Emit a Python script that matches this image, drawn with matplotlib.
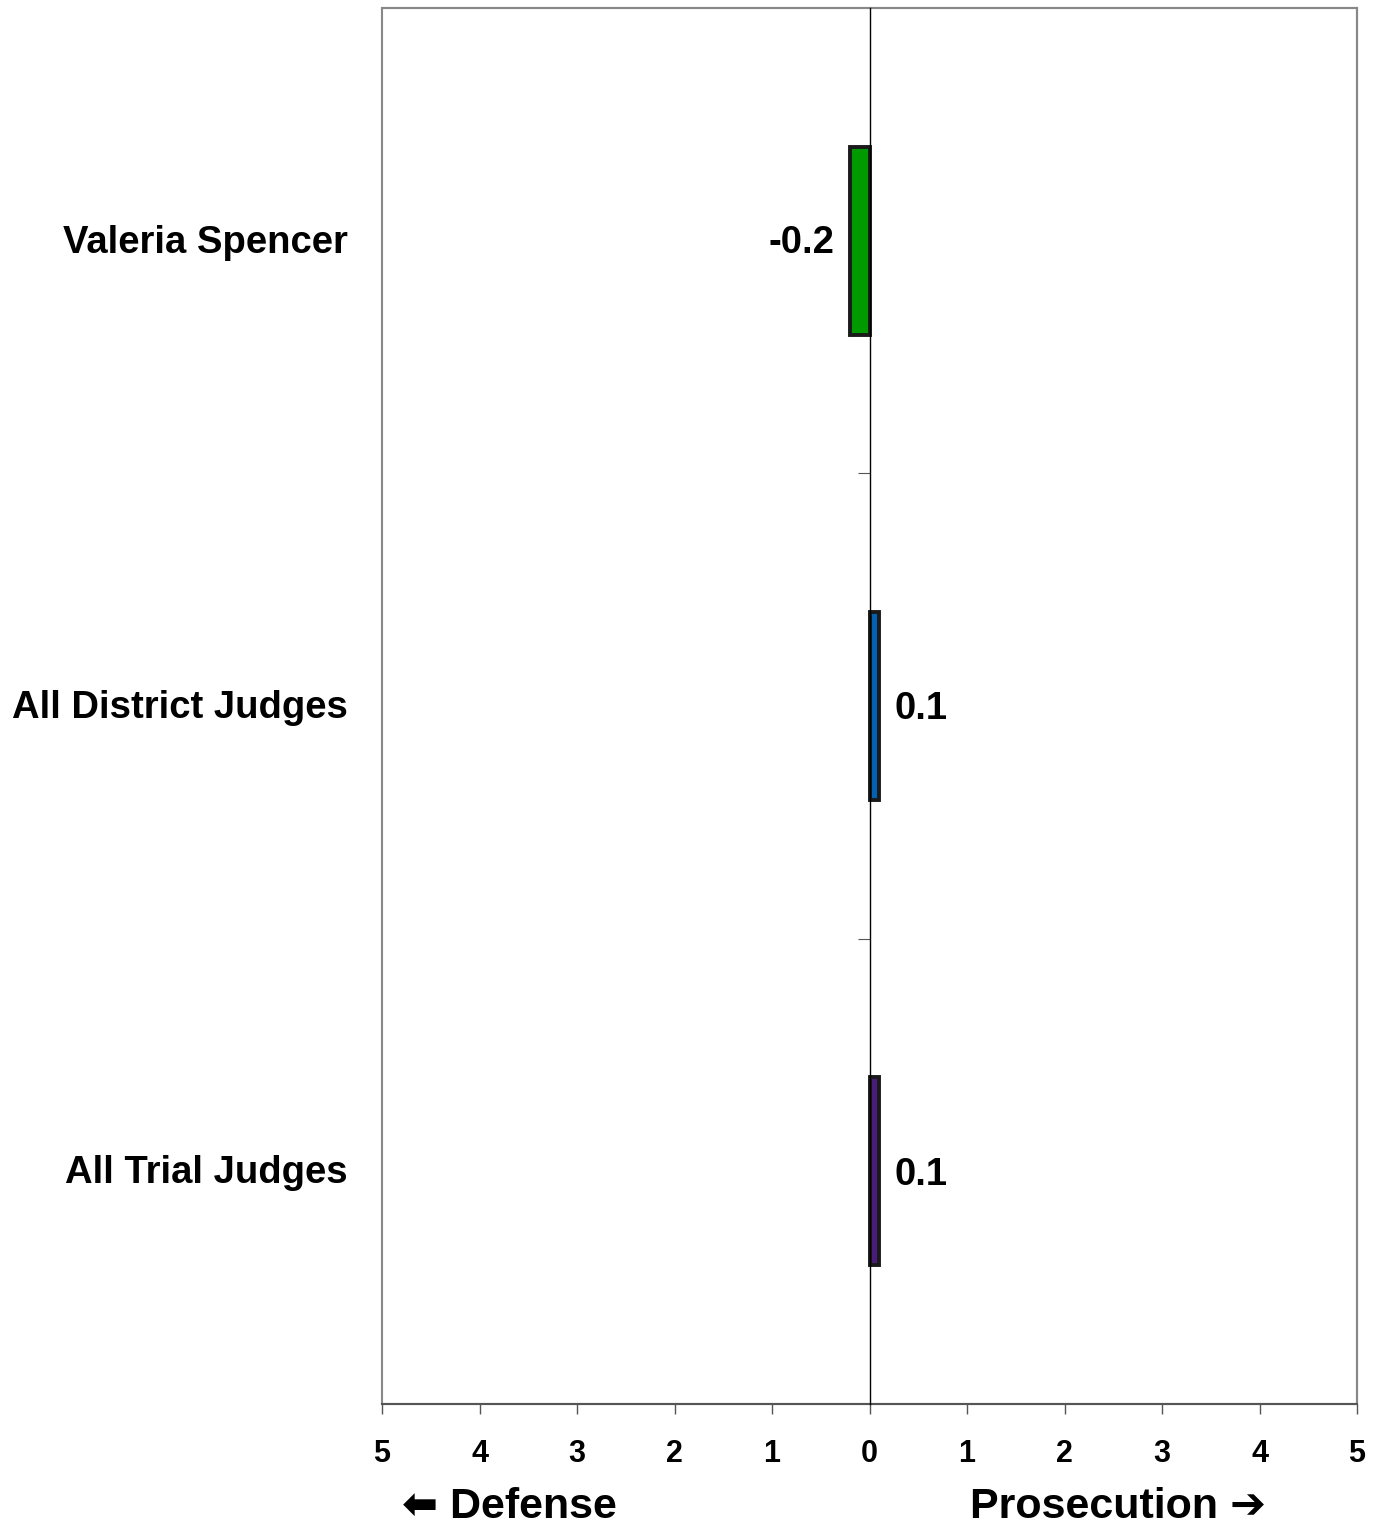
import matplotlib
matplotlib.use("Agg")
import matplotlib.pyplot as plt
from matplotlib.patches import Rectangle
from matplotlib.transforms import blended_transform_factory

plt.rcParams['font.family'] = ['Liberation Sans', 'DejaVu Sans']

categories = ["Valeria Spencer", "All District Judges", "All Trial Judges"]
values = [-0.2, 0.1, 0.1]
value_labels = ["-0.2", "0.1", "0.1"]
colors = ["#009a00", "#0062b0", "#4b1b7a"]
xticks = [-5, -4, -3, -2, -1, 0, 1, 2, 3, 4, 5]
xtick_labels = ["5", "4", "3", "2", "1", "0", "1", "2", "3", "4", "5"]

fig = plt.figure(figsize=(13.75, 15.26), dpi=100)
ax = fig.add_axes([382/1375, 1 - 1404/1526, 975/1375, 1396/1526])

ypos = list(range(len(categories)))
ax.barh(ypos, values, height=0.404, color=colors, edgecolor="#1a1a1a", linewidth=2.8, zorder=3)

ax.set_xlim(-5, 5)
ax.set_ylim(2.5, -0.5)

# zero axis line with small ticks at category boundaries
ax.spines['left'].set_position(('data', 0))
ax.spines['left'].set_color('black')
ax.spines['left'].set_linewidth(1.0)
ax.spines['left'].set_zorder(4)
ax.set_yticks([0.5, 1.5])
ax.set_yticklabels([])
ax.tick_params(axis='y', direction='out', length=8.5, width=0.8, color='#555555')

for s in ['top', 'right']:
    ax.spines[s].set_color('#888888')
    ax.spines[s].set_linewidth(1.5)
ax.spines['bottom'].set_color('#555555')
ax.spines['bottom'].set_linewidth(1.5)
ax.add_patch(Rectangle((0, 0), 1, 1, transform=ax.transAxes, fill=False,
                       edgecolor='#888888', linewidth=1.5, zorder=0, clip_on=False))

ax.set_xticks(xticks)
ax.set_xticklabels(xtick_labels, fontsize=22, fontweight='bold')
ax.tick_params(axis='x', direction='out', length=7, width=1.0, color='#555555', pad=18)

for y, cat in zip(ypos, categories):
    ax.annotate(cat, (0, y), xycoords=('axes fraction', 'data'),
                xytext=(-24.5, -1.5), textcoords='offset points',
                ha='right', va='center', fontsize=27.5, fontweight='bold')

for y, v, lab in zip(ypos, values, value_labels):
    if v < 0:
        ax.annotate(lab, (v, y), xytext=(-11.5, -1.5), textcoords='offset points',
                    ha='right', va='center', fontsize=27.5, fontweight='bold')
    else:
        ax.annotate(lab, (v, y), xytext=(11, -2.5), textcoords='offset points',
                    ha='left', va='center', fontsize=27.5, fontweight='bold')

transb = blended_transform_factory(ax.transData, ax.transAxes)
ax.text(-3.69, -0.0735, "\u2b05 Defense", transform=transb, ha='center', va='center',
        fontsize=31, fontweight='bold')
ax.text(2.55, -0.0735, "Prosecution \u2794", transform=transb, ha='center', va='center',
        fontsize=31, fontweight='bold')

fig.savefig("out.png", dpi=100)
